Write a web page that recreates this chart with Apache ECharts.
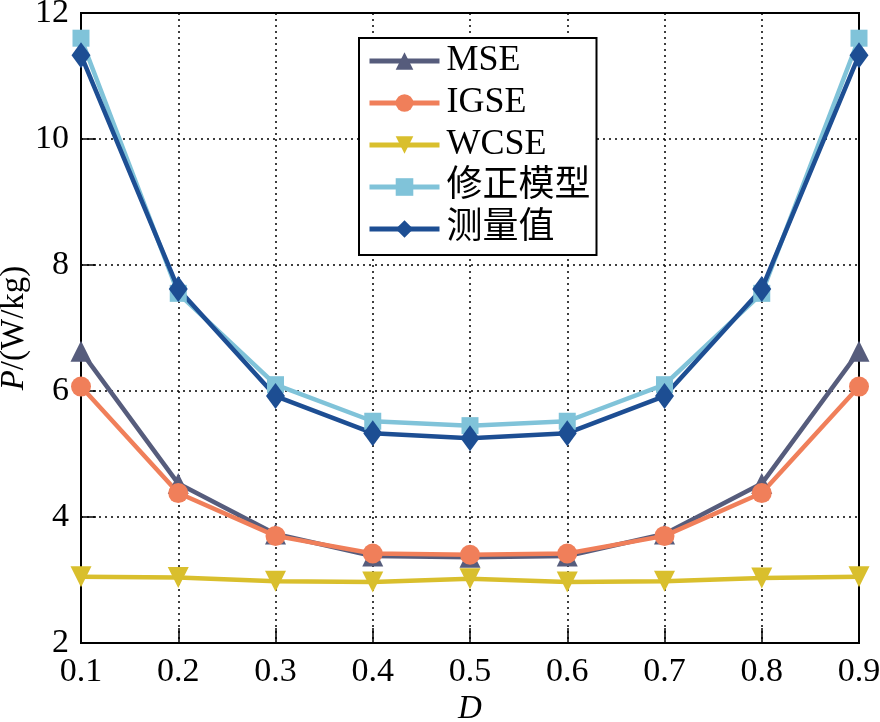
<!DOCTYPE html>
<html>
<head>
<meta charset="utf-8">
<script src="https://cdn.jsdelivr.net/npm/echarts@6/dist/echarts.min.js"></script>
<style>html,body{margin:0;padding:0;background:#fff;}#c{width:880px;height:722px;}</style>
</head>
<body>
<div id="c"></div>
<script>
var categories = ['0.1','0.2','0.3','0.4','0.5','0.6','0.7','0.8','0.9'];
var seriesNames = ['MSE','IGSE','WCSE','修正模型','测量值'];
var mse      = [6.63, 4.53, 3.73, 3.38, 3.36, 3.38, 3.73, 4.53, 6.63];
var igse     = [6.07, 4.38, 3.70, 3.42, 3.40, 3.42, 3.70, 4.38, 6.07];
var wcse     = [3.05, 3.04, 2.98, 2.97, 3.02, 2.97, 2.98, 3.03, 3.05];
var model    = [11.60, 7.55, 6.10, 5.52, 5.45, 5.52, 6.10, 7.55, 11.60];
var measured = [11.33, 7.62, 5.92, 5.33, 5.25, 5.33, 5.92, 7.62, 11.33];
var yTicks = {min: 2, max: 12, interval: 2};

var FONT = '"Liberation Serif", "Noto Sans CJK SC", serif';
var colors = ['#565c7c', '#f07f5a', '#d9bf2d', '#80c3d9', '#1d4e93'];
var symbols = ['triangle', 'circle', 'triangle', 'rect', 'diamond'];
var rot = [0, 0, 180, 0, 0];
var sizes = [21, 20, 21, 17, [19, 26]];
var datas = [mse, igse, wcse, model, measured];

var series = datas.map(function (d, i) {
  return {
    name: seriesNames[i],
    type: 'line',
    data: d,
    symbol: symbols[i],
    symbolRotate: rot[i],
    symbolSize: sizes[i],
    showAllSymbol: true,
    clip: false,
    lineStyle: {color: colors[i], width: 4.5},
    itemStyle: {color: colors[i]},
    emphasis: {disabled: true},
    animation: false
  };
});

var chart = echarts.init(document.getElementById('c'), null, {renderer: 'canvas'});
chart.setOption({
  backgroundColor: '#fff',
  animation: false,
  grid: {left: 81, right: 21, top: 13, bottom: 79, containLabel: false, outerBoundsMode: 'none',
         show: true, borderColor: '#000', borderWidth: 2, backgroundColor: 'transparent'},
  legend: {
    data: seriesNames,
    left: 359, top: 38,
    orient: 'vertical',
    itemWidth: 70, itemHeight: 22,
    itemGap: 6,
    padding: [5, 6, 8, 8],
    borderColor: '#000', borderWidth: 2,
    backgroundColor: '#fff',
    lineStyle: {width: 5},
    textStyle: {fontFamily: FONT, fontSize: 36, color: '#000', lineHeight: 30, padding: [0,0,0,2]},
    selectedMode: false
  },
  xAxis: {
    type: 'category',
    data: categories,
    boundaryGap: false,
    name: 'D',
    nameLocation: 'middle',
    nameGap: 50,
    nameMoveOverlap: false,
    nameTextStyle: {fontFamily: FONT, fontSize: 33, fontStyle: 'italic', color: '#000'},
    axisLine: {lineStyle: {color: '#000', width: 2}},
    axisTick: {inside: true, length: 15, lineStyle: {color: '#000', width: 1.5}, alignWithLabel: true, interval: 0},
    axisLabel: {fontFamily: FONT, fontSize: 34, color: '#000', margin: 12, interval: 0},
    splitLine: {show: true, interval: 0, lineStyle: {color: '#000', width: 1.5, type: [2, 4]}}
  },
  yAxis: {
    type: 'value',
    min: yTicks.min, max: yTicks.max, interval: yTicks.interval,
    name: '{i|P}/(W/kg)',
    nameLocation: 'middle',
    nameGap: 50,
    nameMoveOverlap: false,
    nameTextStyle: {fontFamily: FONT, fontSize: 33, color: '#000', rich: {i: {fontFamily: FONT, fontSize: 33, fontStyle: 'italic', color: '#000'}}},
    axisLine: {show: true, lineStyle: {color: '#000', width: 2}},
    axisTick: {show: true, inside: true, length: 15, lineStyle: {color: '#000', width: 1.5}},
    axisLabel: {fontFamily: FONT, fontSize: 34, color: '#000', margin: 12},
    splitLine: {show: true, lineStyle: {color: '#000', width: 1.5, type: [2, 4]}}
  },
  series: series
});
</script>
</body>
</html>
